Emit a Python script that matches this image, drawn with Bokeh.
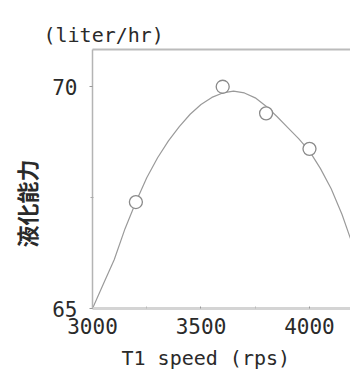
from bokeh.plotting import figure
from bokeh.models import FixedTicker, LinearAxis, Range1d, Title
from bokeh.embed import file_html
from bokeh.resources import INLINE

# measured points
speed = [3200, 3600, 3800, 4000]
capacity = [67.4, 70.0, 69.4, 68.6]

# fitted curve
fit_speed = [3000, 3050, 3100, 3150, 3200, 3250, 3300, 3350, 3400, 3450, 3500,
             3550, 3600, 3650, 3700, 3750, 3800, 3850, 3900, 3950, 4000, 4050,
             4100, 4150, 4200]
fit_capacity = [65.0, 65.55, 66.1, 66.8, 67.4, 67.95, 68.4, 68.78, 69.1, 69.38, 69.6,
                69.76, 69.86, 69.9, 69.86, 69.75, 69.56, 69.33, 69.08, 68.83, 68.55, 68.16,
                67.7, 67.12, 66.42]

x_ticks = [3000, 3500, 4000]
x_minor = [3250, 3750]
y_ticks = [65, 70]
y_minor = [67.5]

unit_text = "(liter/hr)"
y_title = "液化能力"
x_title = "T1 speed (rps)"

MONO = "DejaVu Sans Mono"
TXT = "#2a2a2a"

p = figure(width=350, height=376, output_backend="svg", toolbar_location=None,
           x_range=Range1d(3000, 4189), y_range=Range1d(65, 70.84),
           min_border_left=92, min_border_top=49, min_border_bottom=68,
           min_border_right=0)
p.title.visible = False
p.outline_line_color = None
p.grid.visible = False
p.background_fill_color = "white"
p.border_fill_color = "white"

p.line(fit_speed, fit_capacity, line_color="#9a9a9a", line_width=1.2)
p.scatter(speed, capacity, size=13, marker="circle", fill_color="white",
          line_color="#8a8a8a", line_width=1.3)

xa = p.xaxis[0]
xa.ticker = FixedTicker(ticks=x_ticks, minor_ticks=x_minor)
xa.axis_line_color = "#d4d4d4"
xa.axis_line_width = 3
xa.major_tick_in = 2
xa.major_tick_out = 0
xa.major_tick_line_color = "#999999"
xa.minor_tick_in = 2
xa.minor_tick_out = 0
xa.minor_tick_line_color = "#bbbbbb"
xa.major_label_text_font = MONO
xa.major_label_text_font_size = "21px"
xa.major_label_text_color = TXT
xa.major_label_standoff = 9

ya = p.yaxis[0]
ya.ticker = FixedTicker(ticks=y_ticks, minor_ticks=y_minor)
ya.axis_line_color = "#b4b4b4"
ya.axis_line_width = 1.5
ya.major_tick_in = 0
ya.major_tick_out = 3
ya.major_tick_line_color = "#999999"
ya.minor_tick_in = 1
ya.minor_tick_out = 2
ya.minor_tick_line_color = "#aaaaaa"
ya.major_label_text_font = MONO
ya.major_label_text_font_size = "21px"
ya.major_label_text_color = TXT
ya.major_label_standoff = 12

top = LinearAxis(ticker=FixedTicker(ticks=[]), axis_line_color="#bbbbbb",
                 axis_line_width=2, major_tick_line_color=None,
                 minor_tick_line_color=None, major_label_text_font_size="0px",
                 major_label_standoff=0)
p.add_layout(top, "above")

p.add_layout(Title(text=unit_text, align="left", offset=-49, standoff=5,
                   text_font=MONO, text_font_size="20px", text_font_style="normal",
                   text_color=TXT), "above")
p.add_layout(Title(text=y_title, align="left", offset=61, standoff=13,
                   vertical_align="middle",
                   text_font="Noto Sans CJK JP", text_font_size="22px",
                   text_font_style="bold", text_color=TXT), "left")
p.add_layout(Title(text=x_title, align="left", offset=29, standoff=14,
                   text_font=MONO, text_font_size="20px", text_font_style="normal",
                   text_color=TXT), "below")

open("out.html", "w").write(file_html(p, INLINE))
